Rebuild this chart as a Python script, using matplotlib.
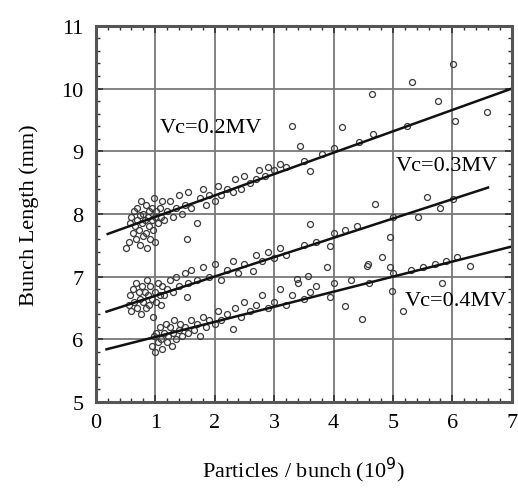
import numpy as np
import matplotlib.pyplot as plt
from matplotlib.ticker import MultipleLocator

plt.rcParams['font.family'] = ['Liberation Serif', 'DejaVu Serif']

# Vc = 0.2 MV
x02 = [0.5, 0.55, 0.58, 0.6, 0.62, 0.65, 0.66, 0.68, 0.7, 0.7, 0.72, 0.74, 0.75, 0.76,
       0.78, 0.8, 0.8, 0.82, 0.84, 0.85, 0.86, 0.88, 0.9, 0.9, 0.92, 0.94, 0.95, 0.97,
       0.98, 1.0, 1.0, 1.02, 1.05, 1.08, 1.1, 1.12, 1.15, 1.2, 1.25, 1.3, 1.35, 1.4,
       1.45, 1.5, 1.53, 1.55, 1.6, 1.7, 1.75, 1.8, 1.85, 1.9, 2.0, 2.05, 2.1, 2.2, 2.3,
       2.35, 2.45, 2.5, 2.6, 2.7, 2.75, 2.85, 2.9, 3.0, 3.1, 3.2, 3.3, 3.43, 3.5, 3.6,
       3.8, 4.0, 4.14, 4.43, 4.65, 4.66, 5.23, 5.32, 5.76, 6.01, 6.04, 6.58]
y02 = [7.45, 7.55, 7.85, 7.95, 7.7, 8.05, 7.8, 7.6, 7.9, 8.1, 7.75, 7.98, 7.5, 8.2,
       7.85, 7.65, 8.0, 7.9, 8.15, 7.7, 7.45, 7.95, 8.05, 7.8, 7.6, 8.1, 7.9, 7.75,
       8.25, 7.95, 7.55, 8.05, 7.85, 8.1, 7.95, 8.2, 7.9, 8.05, 8.2, 7.95, 8.1, 8.3,
       8.0, 8.15, 7.6, 8.35, 8.1, 7.85, 8.25, 8.4, 8.15, 8.3, 8.2, 8.45, 8.3, 8.4, 8.35,
       8.55, 8.4, 8.6, 8.5, 8.55, 8.7, 8.6, 8.75, 8.7, 8.8, 8.75, 9.41, 9.09, 8.85, 8.69,
       8.95, 9.05, 9.39, 9.15, 9.92, 9.28, 9.41, 10.11, 9.8, 10.39, 9.49, 9.63]

# Vc = 0.3 MV
x03 = [0.55, 0.58, 0.6, 0.62, 0.65, 0.68, 0.7, 0.72, 0.75, 0.76, 0.78, 0.8, 0.82,
       0.85, 0.86, 0.88, 0.9, 0.92, 0.95, 0.97, 1.0, 1.02, 1.05, 1.08, 1.1, 1.12, 1.15,
       1.2, 1.25, 1.3, 1.35, 1.4, 1.5, 1.53, 1.55, 1.6, 1.7, 1.8, 1.9, 2.0, 2.1, 2.2,
       2.3, 2.4, 2.5, 2.64, 2.7, 2.8, 2.9, 3.0, 3.1, 3.2, 3.38, 3.5, 3.57, 3.6, 3.7,
       3.89, 3.94, 4.0, 4.2, 4.4, 4.58, 4.7, 4.95, 5.0, 5.42, 5.57, 5.8, 6.01]
y03 = [6.55, 6.7, 6.45, 6.8, 6.6, 6.9, 6.5, 6.75, 6.65, 6.4, 6.85, 6.6, 6.75,
       6.5, 6.95, 6.7, 6.55, 6.85, 6.65, 6.35, 6.75, 6.6, 6.9, 6.7, 6.55, 6.85, 6.7,
       6.8, 6.95, 6.75, 7.0, 6.85, 7.05, 6.68, 6.9, 7.1, 6.95, 7.15, 7.0, 7.2, 6.95, 7.1,
       7.25, 7.05, 7.2, 7.09, 7.35, 7.25, 7.4, 7.3, 7.45, 7.35, 6.96, 7.5, 7.01, 7.84, 7.55,
       7.16, 7.49, 7.7, 7.75, 7.8, 7.2, 8.16, 7.63, 7.95, 7.95, 8.27, 8.1, 8.24]

# Vc = 0.4 MV
x04 = [0.95, 0.98, 1.0, 1.02, 1.05, 1.08, 1.1, 1.12, 1.15, 1.18, 1.2, 1.22, 1.25,
       1.28, 1.3, 1.32, 1.35, 1.4, 1.42, 1.45, 1.5, 1.55, 1.6, 1.65, 1.7, 1.75, 1.8,
       1.85, 1.9, 2.0, 2.05, 2.1, 2.2, 2.31, 2.35, 2.45, 2.5, 2.6, 2.7, 2.8, 2.9, 3.0,
       3.1, 3.2, 3.3, 3.4, 3.5, 3.6, 3.7, 3.94, 4.0, 4.19, 4.3, 4.48, 4.56, 4.6, 4.81,
       4.95, 4.98, 5.0, 5.17, 5.3, 5.5, 5.7, 5.82, 5.9, 6.08, 6.3]
y04 = [5.9, 6.05, 5.8, 6.1, 5.95, 6.2, 6.0, 5.85, 6.1, 6.25, 5.95, 6.05, 6.2,
       5.9, 6.1, 6.3, 6.0, 6.15, 6.25, 6.05, 6.2, 6.1, 6.3, 6.15, 6.25, 6.05, 6.35,
       6.2, 6.3, 6.25, 6.45, 6.3, 6.4, 6.17, 6.5, 6.35, 6.6, 6.45, 6.55, 6.7, 6.5, 6.6,
       6.8, 6.55, 6.7, 6.9, 6.65, 6.75, 6.85, 6.68, 6.9, 6.53, 6.95, 6.33, 7.17, 6.9, 7.31,
       7.16, 6.77, 7.05, 6.45, 7.1, 7.15, 7.2, 6.89, 7.25, 7.31, 7.17]

# fitted lines (end points)
fit_x = {'0.2': [0.2, 7.0], '0.3': [0.18, 6.6], '0.4': [0.18, 7.0]}
fit_y = {'0.2': [7.68, 10.0], '0.3': [6.44, 8.42], '0.4': [5.84, 7.48]}

fig = plt.figure(figsize=(5.18, 4.89), dpi=100)
ax = fig.add_axes([0.185, 0.176, 0.803, 0.769])

for xs, ys in [(x02, y02), (x03, y03), (x04, y04)]:
    ax.plot(xs, ys, 'o', ms=4.3, mfc='none', mec='#3a3a3a', mew=0.9)
for k in fit_x:
    ax.plot(fit_x[k], fit_y[k], color='#111111', lw=1.8)

ax.text(1.08, 9.38, 'Vc=0.2MV', fontsize=16, va='center')
ax.text(5.05, 8.78, 'Vc=0.3MV', fontsize=16, va='center')
ax.text(5.2, 6.62, 'Vc=0.4MV', fontsize=16, va='center')

ax.set_xlim(0, 7)
ax.set_ylim(5, 11)
ax.xaxis.set_major_locator(MultipleLocator(1))
ax.yaxis.set_major_locator(MultipleLocator(1))
ax.xaxis.set_minor_locator(MultipleLocator(0.2))
ax.yaxis.set_minor_locator(MultipleLocator(0.2))
ax.grid(True, which='major', color='#777777', lw=1.3)
ax.set_axisbelow(True)
ax.tick_params(which='both', direction='in', top=True, right=True,
               color='#333333', labelsize=16)
ax.tick_params(which='major', length=5, width=1.2)
ax.tick_params(which='minor', length=3, width=1)
ax.tick_params(axis='y', pad=9)
ax.tick_params(axis='x', pad=8)
for s in ax.spines.values():
    s.set_color('#555555')
    s.set_linewidth(2.2)

ax.set_xlabel('Particles / bunch (10$^{9}$)', fontsize=16, labelpad=16)
ax.set_ylabel('Bunch Length (mm)', fontsize=16, labelpad=16)

fig.savefig('out.png', dpi=100)
